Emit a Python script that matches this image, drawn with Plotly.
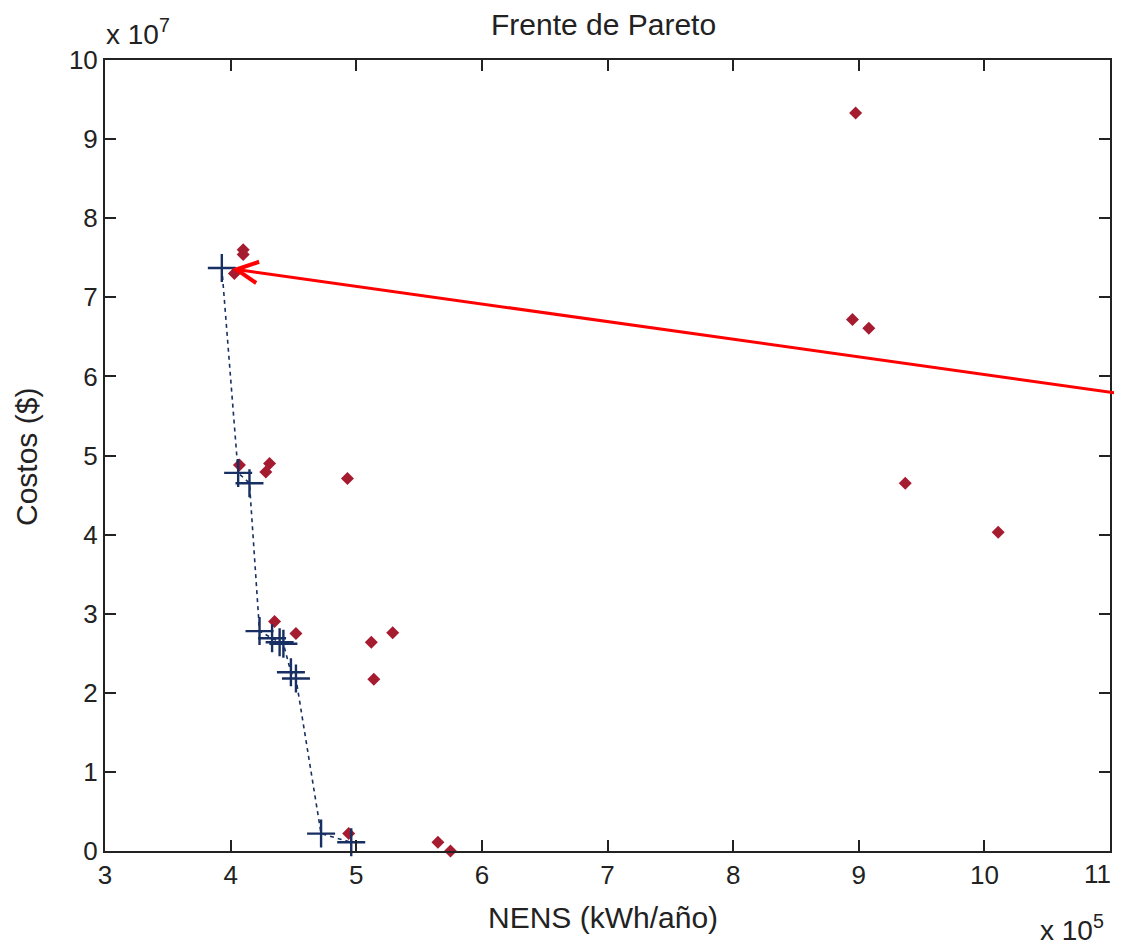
import plotly.graph_objects as go

# Population (red) - NENS (kWh/año), Costos ($)
pop_nens = [8.975e5, 8.95e5, 9.08e5, 9.37e5, 10.11e5, 4.93e5, 4.10e5, 4.10e5, 4.03e5,
            4.07e5, 4.31e5, 4.28e5, 4.35e5, 4.52e5, 5.12e5, 5.29e5, 5.14e5,
            4.94e5, 5.65e5, 5.75e5]
pop_cost = [9.33e7, 6.72e7, 6.61e7, 4.65e7, 4.03e7, 4.71e7, 7.60e7, 7.54e7, 7.30e7,
            4.88e7, 4.90e7, 4.79e7, 2.90e7, 2.75e7, 2.64e7, 2.76e7, 2.17e7,
            0.22e7, 0.11e7, 0.0e7]

# Pareto front (blue)
front_nens = [3.93e5, 4.06e5, 4.15e5, 4.23e5, 4.33e5, 4.39e5, 4.42e5, 4.48e5, 4.52e5, 4.72e5, 4.96e5]
front_cost = [7.37e7, 4.78e7, 4.65e7, 2.78e7, 2.69e7, 2.64e7, 2.62e7, 2.26e7, 2.18e7, 0.22e7, 0.11e7]

# Arrow: tip and tail (data units)
arrow_tip = (4.01e5, 7.36e7)
arrow_tail = (11.09e5, 5.78e7)

x_tickvals = [3e5, 4e5, 5e5, 6e5, 7e5, 8e5, 9e5, 10e5, 11e5]
x_ticktext = ["3", "4", "5", "6", "7", "8", "9", "10", "11"]
y_tickvals = [0, 1e7, 2e7, 3e7, 4e7, 5e7, 6e7, 7e7, 8e7, 9e7, 10e7]
y_ticktext = ["0", "1", "2", "3", "4", "5", "6", "7", "8", "9", "10"]

FONT = "Liberation Sans, Arial, sans-serif"
RED = "#a51c30"
BLUE = "#172f62"
INK = "#222222"

# page offset (browser body margin) and figure geometry
OFF = 8
W, H = 1122 - OFF, 945 - OFF
L, R, T, B = 105 - OFF, 12, 60 - OFF, 94
pw, ph = W - L - R, H - T - B


def px2paper(px, py):
    """page pixel -> paper coordinates"""
    fx, fy = px - OFF, py - OFF
    return (fx - L) / pw, (H - fy - B) / ph


fig = go.Figure()
fig.add_trace(go.Scatter(
    x=pop_nens, y=pop_cost, mode="markers",
    marker=dict(symbol="diamond", size=10, color=RED, line=dict(width=0)),
    showlegend=False, cliponaxis=False))
fig.add_trace(go.Scatter(
    x=front_nens, y=front_cost, mode="lines+markers",
    line=dict(color=BLUE, width=1.6, dash="4px,4px"),
    marker=dict(symbol="cross-thin", size=20, line=dict(width=2.4, color=BLUE)),
    showlegend=False, cliponaxis=False))

axis_common = dict(
    showgrid=False, zeroline=False, showline=True, linecolor=INK, linewidth=2,
    mirror="ticks", ticks="inside", ticklen=11, tickwidth=1.5, tickcolor=INK,
    tickfont=dict(family=FONT, size=26, color=INK), automargin=False,
)
# last x tick label drawn right-aligned near the figure edge (as in the original)
fig.update_xaxes(range=[3e5, 11e5], tickvals=x_tickvals,
                 ticktext=x_ticktext[:-1] + [""], **axis_common)
fig.update_yaxes(range=[0, 10e7], tickvals=y_tickvals, ticktext=y_ticktext, **axis_common)

fig.add_annotation(
    x=arrow_tip[0], y=arrow_tip[1], ax=arrow_tail[0], ay=arrow_tail[1],
    xref="x", yref="y", axref="x", ayref="y",
    showarrow=True, arrowhead=5, arrowsize=1.4, arrowwidth=3, arrowcolor="#ff0000", text="")


def label(text, px, py, size=30, xanchor="center", angle=0):
    x, y = px2paper(px, py)
    fig.add_annotation(text=text, x=x, y=y, xref="paper", yref="paper",
                       xanchor=xanchor, yanchor="middle", textangle=angle,
                       showarrow=False, font=dict(family=FONT, size=size, color=INK))


label("Frente de Pareto", 603, 25)
label("NENS (kWh/año)", 603, 917)
label("Costos ($)", 26, 457, angle=-90)
label("x 10<sup>7</sup>", 104, 32, size=28, xanchor="left")
label("x 10<sup>5</sup>", 1038, 928, size=28, xanchor="left")

# tick label "11" at the right end of the x axis
fig.add_annotation(text=x_ticktext[-1], x=x_tickvals[-1], y=px2paper(0, 874)[1],
                   xref="x", yref="paper", xanchor="right", yanchor="middle", xshift=3,
                   showarrow=False, font=dict(family=FONT, size=26, color=INK))

fig.update_layout(
    width=W, height=H, margin=dict(l=L, r=R, t=T, b=B, autoexpand=False),
    paper_bgcolor="white", plot_bgcolor="white",
    font=dict(family=FONT, color=INK),
)
fig.write_html("out.html")
